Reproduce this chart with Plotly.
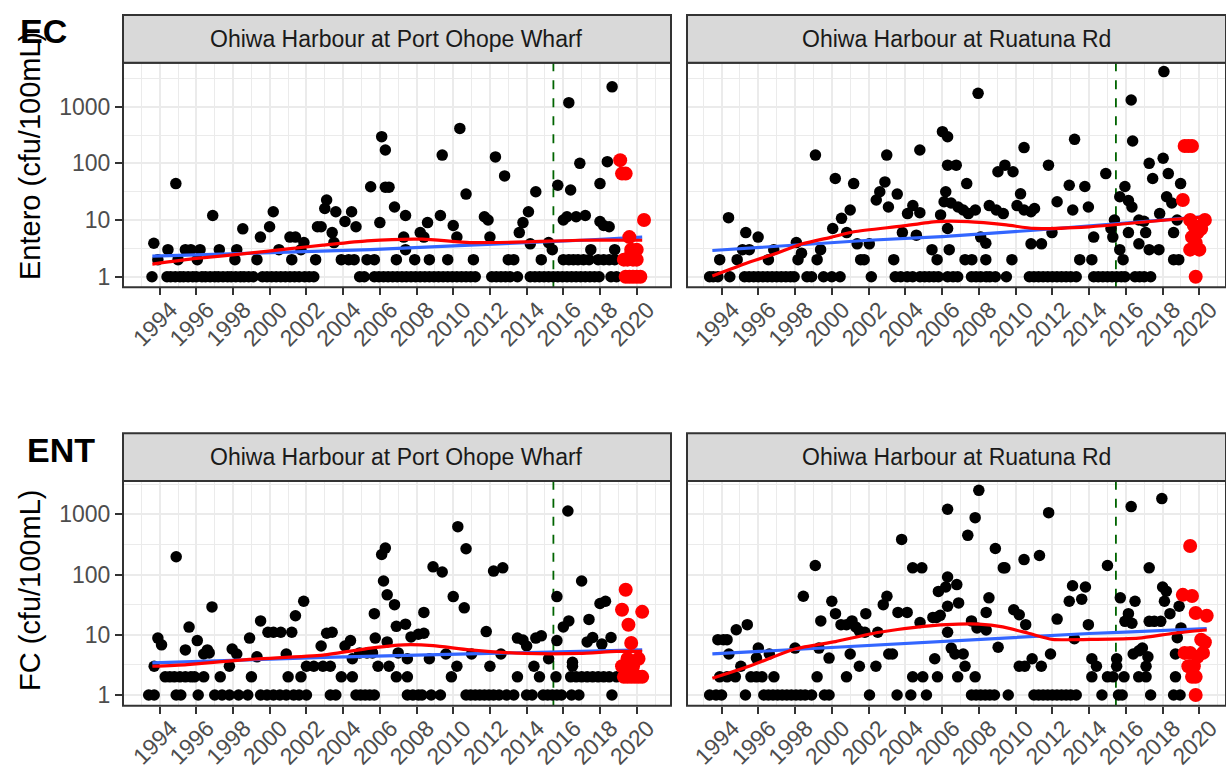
import plotly.graph_objects as go

# ---------------- Top row: Entero (cfu/100mL) ----------------
# Port Ohope Wharf: sample dates at the common low counts (1, 2, 3)
ohope_ent_ones = [1993.58, 1994.4, 1994.6, 1994.85, 1995.1, 1995.3, 1995.55, 1995.8, 1996.0, 1996.3,
                  1996.5, 1996.75, 1997.0, 1997.2, 1997.45, 1997.7, 1997.9, 1998.15, 1998.4, 1998.6,
                  1998.85, 1999.1, 1999.6, 1999.85, 2000.1, 2000.35, 2000.6, 2000.85, 2001.1, 2001.35,
                  2001.6, 2001.9, 2002.15, 2002.4, 2004.9, 2005.15, 2005.7, 2005.95, 2006.2, 2006.45,
                  2006.7, 2006.95, 2007.2, 2007.45, 2007.7, 2007.95, 2008.2, 2008.45, 2008.7, 2008.95,
                  2009.2, 2009.45, 2009.7, 2009.95, 2010.2, 2010.45, 2010.7, 2010.95, 2011.2, 2012.1,
                  2012.35, 2012.6, 2012.85, 2013.1, 2013.5, 2014.2, 2014.45, 2014.7, 2014.95, 2015.2,
                  2015.45, 2015.7, 2015.95, 2016.2, 2016.45, 2016.7, 2016.95, 2017.2, 2017.45, 2017.7,
                  2017.95, 2018.6, 2018.9]
ohope_ent_twos = [1993.9, 1995.0, 1996.05, 1998.1, 1999.3, 2001.2, 2002.5, 2003.9, 2004.3, 2004.6,
                  2005.3, 2005.7, 2006.9, 2007.9, 2008.7, 2009.7, 2011.1, 2013.0, 2013.3, 2014.8,
                  2016.0, 2016.3, 2016.55, 2016.8, 2017.1, 2017.4, 2017.9, 2018.2, 2018.5, 2018.8]
ohope_ent_threes = [1994.45, 1995.4, 1995.7, 1996.2, 1997.25, 1998.2, 2000.5, 2001.7, 2007.4,
                    2015.4, 2017.5, 2018.8]
ohope_ent_other_yr = [1993.68, 1994.88, 1996.89, 1998.53, 1999.49, 1999.99, 2000.19, 2001.1, 2001.4,
                      2001.86, 2002.6, 2002.8, 2003.1, 2003.0, 2003.4, 2003.5, 2003.6, 2004.1, 2004.46,
                      2004.7, 2005.5, 2006.0, 2006.1, 2006.3, 2006.3, 2006.5, 2006.8, 2007.3, 2007.4,
                      2008.2, 2008.4, 2008.6, 2009.3, 2009.4, 2010.0, 2010.2, 2010.36, 2010.7, 2011.7,
                      2011.9, 2012.0, 2012.3, 2012.8, 2013.6, 2013.8, 2014.1, 2014.2, 2014.5, 2015.2,
                      2015.7, 2016.0, 2016.3, 2016.4, 2016.2, 2016.7, 2017.2, 2016.9, 2018.0, 2018.0,
                      2018.2, 2018.5, 2018.66, 2018.4]
ohope_ent_other_val = [3.9, 44, 12, 7, 5, 7.6, 14, 5, 5,
                       4, 7.6, 7.6, 22.6, 16, 6, 4, 14, 9.4, 14,
                       7.6, 38.6, 9, 296, 172, 38, 38, 17, 5, 12,
                       6, 5, 9, 12, 140, 8, 5, 414, 28.7, 11.4,
                       10, 5, 130, 60, 6, 9, 14, 3.8, 31.6, 4,
                       41, 10, 1177, 33.8, 11.4, 11.4, 12, 100, 44, 9.4,
                       8, 7.6, 2240, 107]
ohope_ent_new_yr = [2019.1, 2019.2, 2019.4, 2019.6, 2019.7, 2020.0, 2019.3, 2019.5, 2019.8, 2020.0,
                    2019.4, 2019.6, 2019.8, 2020.0, 2020.2, 2020.4, 2019.7]
ohope_ent_new_val = [114, 66, 66, 5, 3, 3, 2, 2, 2, 2,
                     1, 1, 1, 1, 1, 10, 2.5]
ohope_ent_trend_yr = [1993.6, 1999.0, 2005.5, 2010.0, 2013.5, 2017.0, 2020.3]
ohope_ent_trend_val = [2.3, 2.6, 3.0, 3.5, 3.9, 4.4, 5.0]
ohope_ent_smooth_yr = [1993.6, 1996.0, 1998.9, 2001.0, 2002.9, 2005.3, 2008.3, 2010.9, 2013.9, 2016.9, 2020.3]
ohope_ent_smooth_val = [1.67, 2.1, 2.6, 3.1, 3.6, 4.3, 4.6, 4.0, 4.1, 4.4, 4.4]

# Ruatuna Rd
ruatuna_ent_ones = [1993.35, 1993.55, 1993.8, 1994.45, 1995.25, 1995.5, 1995.75, 1996.0, 1996.25, 1996.5,
                    1996.75, 1997.0, 1997.25, 1997.5, 1997.75, 1997.95, 1998.65, 1998.9, 1999.55, 2000.0,
                    2000.45, 2002.15, 2003.45, 2003.75, 2004.1, 2004.4, 2004.8, 2005.05, 2005.3, 2005.55,
                    2005.8, 2006.3, 2006.6, 2006.85, 2007.6, 2007.85, 2008.1, 2008.4, 2008.6, 2008.9,
                    2009.5, 2010.75, 2011.0, 2011.25, 2011.5, 2011.75, 2012.0, 2012.25, 2012.5, 2012.75,
                    2013.0, 2013.3, 2014.25, 2014.5, 2014.75, 2015.0, 2015.25, 2015.5, 2015.75, 2015.95,
                    2016.5, 2016.75, 2017.0, 2017.35]
ruatuna_ent_twos = [1993.9, 1994.85, 1996.55, 1998.16, 1999.2, 2001.57, 2001.76, 2003.37, 2005.73,
                    2007.25, 2007.62, 2008.38, 2009.8, 2013.49, 2014.15, 2015.85, 2018.6, 2018.88]
ruatuna_ent_threes = [1995.14, 1995.51, 1996.84, 1999.39, 2005.45, 2006.39, 2015.67, 2017.27, 2017.8]
ruatuna_ent_other_yr = [1994.38, 1995.32, 1995.99, 1998.07, 1998.35, 1999.11, 2000.05, 2000.19, 2000.53,
                        2000.81, 2001.0, 2001.19, 2001.38, 2002.04, 2002.42, 2002.61, 2002.89, 2002.99,
                        2003.08, 2003.56, 2003.84, 2004.12, 2004.41, 2004.6, 2004.79, 2004.79, 2005.92,
                        2006.02, 2006.3, 2006.2, 2006.11, 2006.3, 2006.77, 2006.3, 2006.49, 2006.87,
                        2007.15, 2007.43, 2007.34, 2007.81, 2007.96, 2008.1, 2008.38, 2008.57, 2008.95,
                        2009.04, 2009.33, 2009.42, 2009.86, 2010.27, 2010.08, 2010.46, 2010.84, 2011.03,
                        2010.46, 2010.84, 2011.41, 2011.79, 2011.98, 2012.26, 2012.92, 2013.11, 2013.21,
                        2013.77, 2013.96, 2014.25, 2014.91, 2015.19, 2015.29, 2015.38, 2015.67, 2015.95,
                        2016.14, 2016.33, 2016.29, 2016.37, 2016.14, 2016.71, 2017.08, 2016.71, 2016.99,
                        2017.27, 2017.46, 2017.84, 2018.03, 2018.07, 2018.22, 2018.5, 2018.31, 2018.6,
                        2018.79, 2018.98]
ruatuna_ent_other_val = [11, 6, 5, 4, 2.6, 140, 7.1, 54, 10.7,
                         6, 15, 44, 3.8, 3.8, 22.6, 31.6, 47, 140,
                         17, 28.7, 6, 13, 18, 5.4, 172, 13.5, 12.3,
                         362, 295, 31.6, 21, 93, 93, 7.1, 20, 17,
                         15, 13, 44, 15, 1718, 5, 3.9, 18, 15,
                         71, 13, 93, 71, 29, 18, 15, 14, 16,
                         190, 3.8, 3.8, 93, 6, 21, 41, 15, 265,
                         39, 17, 5, 66, 7.1, 5, 10, 25.8, 39,
                         22, 17, 1312, 248, 6, 3.8, 6, 10, 9.5,
                         100, 54, 13, 123, 4160, 25.8, 20, 66, 6,
                         10, 44]
ruatuna_ent_new_yr = [2019.2, 2019.4, 2019.6, 2019.1, 2019.5, 2019.7, 2019.9, 2020.1, 2020.3, 2019.6,
                      2019.8, 2019.5, 2020.0, 2019.8]
ruatuna_ent_new_val = [202, 202, 202, 22.6, 10, 8, 6, 7, 10, 5,
                       4, 3, 3, 1]
ruatuna_ent_trend_yr = [1993.5, 1998.0, 2002.0, 2006.0, 2011.0, 2016.3, 2020.3]
ruatuna_ent_trend_val = [2.9, 3.6, 4.4, 5.1, 6.6, 9.0, 11.5]
ruatuna_ent_smooth_yr = [1993.5, 1995.5, 1997.0, 1998.4, 2000.0, 2001.2, 2003.8, 2005.7, 2007.4, 2009.5,
                         2011.0, 2014.0, 2015.8, 2018.2, 2020.3]
ruatuna_ent_smooth_val = [1.03, 1.8, 2.6, 3.8, 5.0, 6.2, 7.8, 9.4, 9.4, 8.2,
                          7.1, 7.6, 8.5, 10.0, 11.4]

# ---------------- Bottom row: FC (cfu/100mL) ----------------
ohope_fc_ones = [1993.4, 1993.7, 1994.9, 1995.15, 1996.1, 1997.0, 1997.4, 1997.8, 1998.3, 1998.8,
                 1999.5, 1999.85, 2000.2, 2000.55, 2000.9, 2001.3, 2001.6, 2002.0, 2003.3, 2003.6,
                 2004.7, 2004.95, 2005.2, 2005.45, 2005.7, 2007.5, 2007.8, 2008.1, 2008.3, 2008.8,
                 2009.3, 2010.7, 2010.95, 2011.2, 2011.45, 2011.7, 2011.95, 2012.2, 2012.5, 2012.9,
                 2013.3, 2014.0, 2014.3, 2014.9, 2015.15, 2015.4, 2015.65, 2015.9, 2016.45, 2016.85,
                 2018.65]
ohope_fc_twos = [1994.3, 1994.55, 1994.8, 1995.1, 1995.4, 1995.7, 1995.9, 1996.4, 1997.3, 1999.0,
                 2001.0, 2001.7, 2003.9, 2004.5, 2006.9, 2007.5, 2009.9, 2013.5, 2014.7, 2015.6,
                 2016.4, 2016.7, 2017.0, 2017.3, 2017.6, 2017.9, 2018.2, 2018.5, 2018.9]
ohope_fc_threes = [1993.7, 1997.8, 2002.0, 2002.4, 2002.9, 2003.3, 2005.9, 2006.5, 2010.2, 2012.0,
                   2014.4, 2016.5]
ohope_fc_other_yr = [1993.9, 1994.1, 1994.9, 1995.4, 1995.6, 1996.05, 1996.4, 1996.6, 1996.7, 1996.85,
                     1997.95, 1998.2, 1998.9, 1999.3, 1999.5, 1999.9, 2000.2, 2000.6, 2000.9, 2001.2,
                     2001.4, 2001.85, 2002.8, 2003.1, 2003.4, 2004.1, 2004.4, 2004.5, 2004.9, 2005.3,
                     2005.6, 2005.7, 2005.75, 2006.1, 2006.3, 2006.2, 2006.4, 2006.8, 2006.4, 2006.9,
                     2007.0, 2007.4, 2007.5, 2007.7, 2008.1, 2008.4, 2008.4, 2008.7, 2008.9, 2009.4,
                     2009.6, 2010.0, 2010.25, 2010.6, 2010.7, 2011.0, 2011.8, 2012.2, 2012.7, 2012.6,
                     2013.5, 2013.8, 2014.0, 2014.5, 2014.8, 2015.2, 2015.65, 2015.65, 2016.0, 2016.3,
                     2016.25, 2016.5, 2017.0, 2017.4, 2017.3, 2017.6, 2018.0, 2018.3, 2018.1, 2018.6]
ohope_fc_other_val = [8.8, 6.8, 197, 5.6, 13.4, 8, 4.8, 5.6, 5, 29,
                      5.8, 4.8, 8.8, 4.3, 17, 11, 11, 11, 4.8, 11,
                      20.7, 36, 6.5, 10.6, 11, 6.5, 8, 4, 5, 5,
                      5, 22.4, 8.8, 215, 275, 78, 46, 31.6, 7.6, 13.8,
                      5, 15, 4, 9.2, 10.2, 10.6, 23.5, 4, 134, 110,
                      4.8, 43, 623, 28, 268, 4.8, 11.3, 114, 129, 4.8,
                      8.8, 8.2, 6.5, 8.8, 9.6, 4, 8, 43, 13.5, 17,
                      1137, 3.5, 78, 18, 7.6, 9, 33, 36, 7, 9]
ohope_fc_new_yr = [2019.4, 2019.2, 2019.55, 2019.7, 2019.5, 2020.1, 2019.2, 2019.3, 2019.5, 2019.7,
                   2019.9, 2020.1, 2020.3, 2020.3, 2019.8]
ohope_fc_new_val = [56, 26, 14.7, 7.3, 4, 4, 3, 2, 2, 2,
                    2, 2, 2, 24, 3]
ohope_fc_trend_yr = [1993.6, 1998.0, 2003.0, 2008.0, 2012.0, 2016.0, 2020.3]
ohope_fc_trend_val = [3.4, 3.8, 4.2, 4.6, 4.9, 5.3, 5.6]
ohope_fc_smooth_yr = [1993.6, 1995.5, 1998.9, 2002.9, 2005.5, 2007.3, 2008.9, 2010.9, 2013.9, 2016.9,
                      2018.9, 2020.3]
ohope_fc_smooth_val = [3.0, 3.2, 3.9, 4.6, 6.0, 6.8, 6.6, 5.6, 4.9, 4.9,
                       5.3, 5.3]

ruatuna_fc_ones = [1993.35, 1993.7, 1994.0, 1995.3, 1996.3, 1996.55, 1996.8, 1997.05, 1997.3, 1997.55,
                   1997.8, 1998.05, 1998.3, 1998.55, 1998.9, 1999.6, 1999.85, 2002.05, 2003.55, 2004.3,
                   2005.15, 2007.6, 2007.85, 2008.1, 2008.35, 2008.6, 2008.85, 2009.6, 2011.0, 2011.25,
                   2011.5, 2011.75, 2012.0, 2012.25, 2012.5, 2012.75, 2013.0, 2013.3, 2014.7, 2015.6,
                   2015.8, 2017.35, 2018.6, 2018.95]
ruatuna_fc_twos = [1993.9, 1994.3, 1994.75, 1995.6, 1995.9, 1996.2, 1996.85, 1999.2, 2000.8, 2004.4,
                   2004.95, 2005.75, 2006.85, 2007.8, 2014.15, 2015.0, 2015.3, 2015.9, 2016.7, 2017.1,
                   2018.7]
ruatuna_fc_threes = [1995.05, 2001.5, 2002.4, 2007.25, 2010.2, 2011.4, 2014.4, 2015.5, 2017.1]
ruatuna_fc_other_yr = [1993.8, 1994.1, 1994.3, 1994.4, 1994.8, 1995.4, 1995.9, 1996.0, 1996.6, 1998.0,
                       1998.45, 1999.1, 1999.4, 1999.3, 1999.85, 2000.0, 2000.2, 2000.5, 2000.8, 2001.1,
                       2001.3, 2001.5, 2001.8, 2001.0, 2001.85, 2002.5, 2002.8, 2003.0, 2003.1, 2003.3,
                       2003.6, 2004.1, 2003.8, 2004.4, 2004.9, 2004.8, 2005.5, 2005.8, 2006.2, 2006.3,
                       2006.8, 2005.7, 2005.9, 2006.3, 2006.9, 2005.6, 2006.3, 2006.5, 2006.7, 2007.15,
                       2006.3, 2007.4, 2007.8, 2008.0, 2007.6, 2007.9, 2008.4, 2008.55, 2008.4, 2008.9,
                       2009.05, 2009.33, 2009.42, 2009.9, 2010.2, 2010.46, 2010.55, 2010.5, 2010.9, 2011.3,
                       2011.8, 2011.9, 2012.26, 2012.92, 2013.1, 2013.6, 2013.8, 2013.2, 2013.96, 2014.15,
                       2015.0, 2015.5, 2015.7, 2015.95, 2016.14, 2016.33, 2016.5, 2016.29, 2016.4, 2016.71,
                       2016.9, 2017.2, 2017.27, 2017.27, 2017.55, 2017.9, 2017.96, 2018.0, 2018.2, 2018.1,
                       2018.4, 2018.9, 2019.0, 2018.8, 2018.7]
ruatuna_fc_other_val = [8.3, 8.3, 8.3, 4.8, 12.1, 14.7, 4.1, 6, 4.8, 6,
                        43.5, 141, 17, 6, 4.1, 36, 22.4, 14.7, 14.7, 17,
                        13.5, 11.5, 11, 4.8, 22.4, 11, 31.6, 43.5, 4.8, 4.8,
                        23.5, 23.5, 383, 129, 129, 16, 19.4, 52.5, 62, 91,
                        68, 19.4, 21, 29.7, 33.8, 4, 11, 6, 4.8, 4.8,
                        1212, 447, 880, 2500, 17, 13, 23.5, 41, 12, 271,
                        6.2, 129, 129, 26, 21.5, 177, 14.7, 3, 4, 207,
                        1066, 4.8, 18.2, 36, 65, 39, 62, 8.6, 14.7, 4,
                        141, 4, 41, 16.7, 22.4, 15.5, 36, 1342, 4.8, 5.4,
                        6, 4.3, 129, 16.7, 16.7, 16.7, 1824, 62, 53, 36,
                        22.4, 29.7, 13, 8.9, 4.8]
ruatuna_fc_new_yr = [2019.5, 2019.1, 2019.6, 2019.8, 2020.4, 2020.1, 2020.3, 2019.2, 2019.5, 2019.9,
                     2020.2, 2019.4, 2019.7, 2019.6, 2019.8, 2019.8]
ruatuna_fc_new_val = [297, 46, 44, 23, 20.7, 8.3, 7.5, 5, 5, 4.3,
                      5, 3, 3, 2, 2, 1]
ruatuna_fc_trend_yr = [1993.5, 1998.0, 2003.0, 2007.0, 2010.6, 2014.0, 2016.3, 2020.4]
ruatuna_fc_trend_val = [4.8, 5.7, 6.8, 8.0, 9.3, 10.5, 11.2, 12.7]
ruatuna_fc_smooth_yr = [1993.5, 1995.5, 1998.0, 2000.2, 2002.5, 2005.0, 2006.9, 2008.0, 2009.3, 2010.7,
                        2012.0, 2014.4, 2016.7, 2018.6, 2020.4]
ruatuna_fc_smooth_val = [1.9, 3.0, 5.8, 7.7, 10.9, 13.8, 15.0, 15.0, 13.5, 10.6,
                         8.4, 8.4, 8.8, 10.6, 12.0]

change_year = 2015.46
year_ticks = list(range(1994, 2021, 2))
y_ticks = [1, 10, 100, 1000]
y_minor = [10 ** 0.5, 10 ** 1.5, 10 ** 2.5, 10 ** 3.5]

site_names = ["Ohiwa Harbour at Port Ohope Wharf", "Ohiwa Harbour at Ruatuna Rd"]

# ---------------- layout geometry (pixels) ----------------
W, H = 1226, 776
FONT = "Liberation Sans, Arial, sans-serif"
col_px = [(123, 671), (687, 1226)]
col_range = [(1992.0, 2021.87), (1992.12, 2021.45)]
row_px = [(62.7, 287.3), (481.0, 705.7)]   # panel top/bottom
strip_top = [15.0, 433.3]
row_yrange = [(-0.187, 3.776), (-0.178, 3.553)]


def fx(p):
    return p / W


def fy(p):
    return 1 - p / H


panels = [
    (0, 0, ohope_ent_ones, ohope_ent_twos, ohope_ent_threes, ohope_ent_other_yr, ohope_ent_other_val,
     ohope_ent_new_yr, ohope_ent_new_val, ohope_ent_trend_yr, ohope_ent_trend_val,
     ohope_ent_smooth_yr, ohope_ent_smooth_val),
    (0, 1, ruatuna_ent_ones, ruatuna_ent_twos, ruatuna_ent_threes, ruatuna_ent_other_yr, ruatuna_ent_other_val,
     ruatuna_ent_new_yr, ruatuna_ent_new_val, ruatuna_ent_trend_yr, ruatuna_ent_trend_val,
     ruatuna_ent_smooth_yr, ruatuna_ent_smooth_val),
    (1, 0, ohope_fc_ones, ohope_fc_twos, ohope_fc_threes, ohope_fc_other_yr, ohope_fc_other_val,
     ohope_fc_new_yr, ohope_fc_new_val, ohope_fc_trend_yr, ohope_fc_trend_val,
     ohope_fc_smooth_yr, ohope_fc_smooth_val),
    (1, 1, ruatuna_fc_ones, ruatuna_fc_twos, ruatuna_fc_threes, ruatuna_fc_other_yr, ruatuna_fc_other_val,
     ruatuna_fc_new_yr, ruatuna_fc_new_val, ruatuna_fc_trend_yr, ruatuna_fc_trend_val,
     ruatuna_fc_smooth_yr, ruatuna_fc_smooth_val),
]

fig = go.Figure()
shapes = []
annotations = []
layout_axes = {}

for i, (row, col, ones, twos, threes, oyr, oval, nyr, nval, tyr, tval, syr, sval) in enumerate(panels):
    n = i + 1
    xa = "x" if n == 1 else f"x{n}"
    ya = "y" if n == 1 else f"y{n}"
    xkey = "xaxis" if n == 1 else f"xaxis{n}"
    ykey = "yaxis" if n == 1 else f"yaxis{n}"

    bx = ones + twos + threes + oyr
    by = [1] * len(ones) + [2] * len(twos) + [3] * len(threes) + oval

    # change-point marker
    lo, hi = row_yrange[row]
    fig.add_trace(go.Scatter(x=[change_year, change_year], y=[10 ** lo, 10 ** hi], mode="lines",
                             line=dict(color="#006400", width=1.8, dash="dash"),
                             xaxis=xa, yaxis=ya, showlegend=False, hoverinfo="skip"))
    fig.add_trace(go.Scatter(x=bx, y=by, mode="markers",
                             marker=dict(color="black", size=11.5, line=dict(width=0)),
                             xaxis=xa, yaxis=ya, showlegend=False))
    fig.add_trace(go.Scatter(x=tyr, y=tval, mode="lines", line=dict(color="#3366FF", width=3.2),
                             xaxis=xa, yaxis=ya, showlegend=False))
    fig.add_trace(go.Scatter(x=syr, y=sval, mode="lines",
                             line=dict(color="#FF0000", width=3.2, shape="spline", smoothing=0.6),
                             xaxis=xa, yaxis=ya, showlegend=False))
    fig.add_trace(go.Scatter(x=nyr, y=nval, mode="markers",
                             marker=dict(color="#FF0000", size=14, line=dict(width=0)),
                             xaxis=xa, yaxis=ya, showlegend=False))

    x0p, x1p = col_px[col]
    t_p, b_p = row_px[row]
    layout_axes[xkey] = dict(
        domain=[fx(x0p), fx(x1p)], range=list(col_range[col]), anchor=ya,
        tickmode="array", tickvals=year_ticks, ticktext=[str(v) for v in year_ticks],
        tickangle=-45, ticks="outside", ticklen=7, tickwidth=2, tickcolor="#333333",
        ticklabelstandoff=-8, ticklabelshift=11,
        tickfont=dict(family=FONT, size=23, color="#4D4D4D"),
        showgrid=True, gridcolor="#EBEBEB", gridwidth=2.2,
        minor=dict(tick0=1993, dtick=2, showgrid=True, gridcolor="#EBEBEB", gridwidth=1.4, ticks=""),
        zeroline=False, showline=False, automargin=False, fixedrange=True,
    )
    layout_axes[ykey] = dict(
        domain=[fy(b_p), fy(t_p)], range=list(row_yrange[row]), anchor=xa, type="log",
        tickmode="array", tickvals=y_ticks, ticktext=[str(v) for v in y_ticks],
        ticks="outside" if col == 0 else "", ticklen=7, tickwidth=2, tickcolor="#333333",
        showticklabels=(col == 0),
        tickfont=dict(family=FONT, size=23, color="#4D4D4D"),
        showgrid=True, gridcolor="#EBEBEB", gridwidth=2.2,
        minor=dict(tickmode="array", tickvals=y_minor, showgrid=True, gridcolor="#EBEBEB",
                   gridwidth=1.4, ticks=""),
        zeroline=False, showline=False, automargin=False, fixedrange=True,
    )

    # panel border
    shapes.append(dict(type="rect", xref="paper", yref="paper", x0=fx(x0p), x1=fx(x1p),
                       y0=fy(b_p), y1=fy(t_p), line=dict(color="#333333", width=2),
                       fillcolor="rgba(0,0,0,0)", layer="above"))
    # facet strip
    shapes.append(dict(type="rect", xref="paper", yref="paper", x0=fx(x0p), x1=fx(x1p),
                       y0=fy(t_p), y1=fy(strip_top[row]), line=dict(color="#333333", width=2),
                       fillcolor="#D9D9D9", layer="above"))
    annotations.append(dict(text=site_names[col], xref="paper", yref="paper",
                            x=fx((x0p + x1p) / 2), y=fy((t_p + strip_top[row]) / 2),
                            xanchor="center", yanchor="middle", showarrow=False,
                            font=dict(family=FONT, size=23, color="#1A1A1A")))

# y-axis titles and row labels
annotations += [
    dict(text="Entero (cfu/100mL)", xref="paper", yref="paper", x=fx(30), y=fy(156),
         textangle=-90, xanchor="center", yanchor="middle", showarrow=False,
         font=dict(family=FONT, size=29, color="black")),
    dict(text="FC (cfu/100mL)", xref="paper", yref="paper", x=fx(30), y=fy(591),
         textangle=-90, xanchor="center", yanchor="middle", showarrow=False,
         font=dict(family=FONT, size=29, color="black")),
    dict(text="<b>EC</b>", xref="paper", yref="paper", x=fx(18), y=fy(31),
         xanchor="left", yanchor="middle", showarrow=False,
         font=dict(family=FONT, size=34, color="black")),
    dict(text="<b>ENT</b>", xref="paper", yref="paper", x=fx(25), y=fy(450),
         xanchor="left", yanchor="middle", showarrow=False,
         font=dict(family=FONT, size=34, color="black")),
]

fig.update_layout(
    width=W, height=H, autosize=False,
    margin=dict(l=0, r=0, t=0, b=0, pad=0),
    paper_bgcolor="white", plot_bgcolor="white",
    shapes=shapes, annotations=annotations, showlegend=False,
    font=dict(family=FONT),
    **layout_axes,
)

fig.write_html("out.html")
